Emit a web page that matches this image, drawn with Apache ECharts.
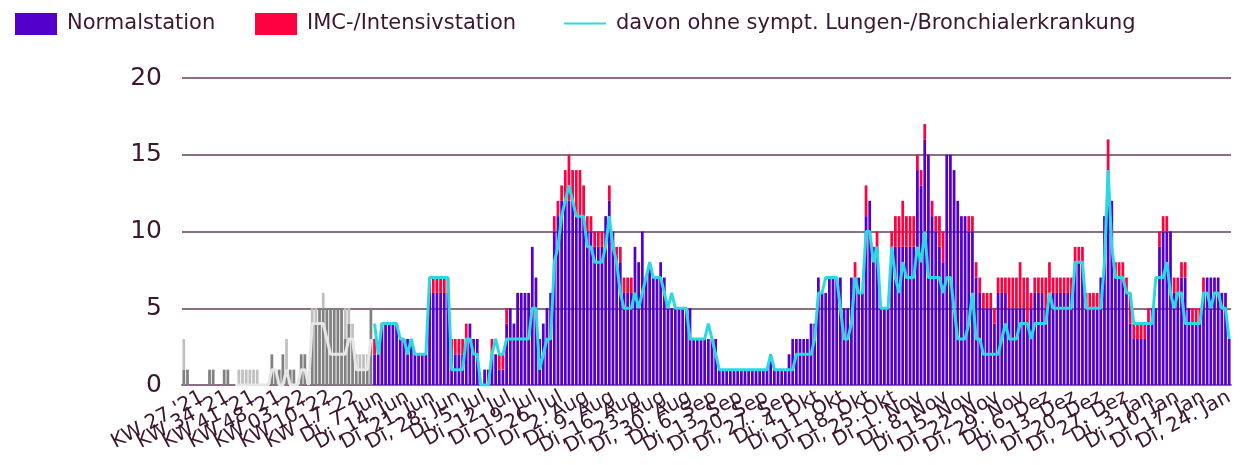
<!DOCTYPE html>
<html lang="de">
<head>
<meta charset="utf-8">
<script src="https://cdn.jsdelivr.net/npm/echarts@6/dist/echarts.min.js"></script>
<style>
  html, body { margin: 0; padding: 0; background: #fff; }
  #chart { width: 1240px; height: 465px; }
</style>
</head>
<body>
<div id="chart"></div>
<script>
// Wochenwerte KW 22 '21 .. KW 21 '22 (grau dargestellt)
var weekNormal = [1,1,0,0,0,0,0,1,1,0, 0,1,1,0,0,0,0,0,0,0, 0,0,0,0,2,1,1,2,1,1,
                  1,0,2,2,0,4,4,5,5,5, 5,5,5,5,3,4,3,1,1,1, 1,5];
var weekImc    = [2,0,0,0,0,0,0,0,0,0, 0,0,0,0,0,1,1,1,1,1, 1,0,0,0,0,0,0,0,2,0,
                  0,0,0,0,0,1,1,0,1,0, 0,0,0,0,2,1,1,1,1,1, 1,0];
var weekOhne   = [null,null,null,null,null,null,null,null,null,null, null,null,null,null,0,0,0,0,0,0,
                  0,0,0,0,1,1,0,0,1,0, 0,0,1,1,0,4,4,4,4,3, 2,2,2,2,2,3,3,1,1,1, 1,3];

// Tageswerte So, 5. Jun 2022 .. Di, 24. Jan 2023
var dayNormal = [2,2,4,4,4,4,4,3,3,3, 3,2,2,2,2,6,6,6,6,6, 6,2,2,2,2,3,4,3,3,0,
                 1,1,2,2,1,1,4,5,4,6, 6,6,6,9,7,3,4,5,6,10, 11,12,12,12,12,11,11,11,10,10,
                 9,9,9,11,12,10,8,8,6,6, 6,9,8,10,7,8,7,7,8,7, 5,5,5,5,5,5,5,3,3,3,
                 3,3,3,3,1,1,1,1,1,1, 1,1,1,1,1,1,1,1,2,1, 1,1,1,2,3,3,3,3,3,4,
                 4,7,6,6,7,7,7,7,5,5, 7,7,7,6,11,12,9,9,5,5, 5,9,9,9,9,9,9,9,14,13,
                 16,15,11,10,9,8,15,15,14,12, 11,11,10,10,7,6,5,5,5,4, 6,6,6,5,5,5,5,5,4,5,
                 6,6,6,5,6,6,6,6,6,6, 6,8,8,8,5,5,5,5,7,11, 14,12,7,7,7,6,4,3,3,3,
                 3,4,5,5,9,10,10,10,6,6, 7,7,5,4,4,4,6,7,7,7, 7,6,6,3];
var dayImc    = [1,0,0,0,0,0,0,0,0,0, 0,0,0,0,0,1,1,1,1,1, 1,1,1,1,1,1,0,0,0,0,
                 0,0,1,0,1,1,1,0,0,0, 0,0,0,0,0,0,0,0,0,1, 1,1,2,3,2,3,3,2,1,1,
                 1,1,1,0,1,0,1,1,1,1, 1,0,0,0,0,0,0,0,0,0, 0,0,0,0,0,0,0,0,0,0,
                 0,0,0,0,0,0,0,0,0,0, 0,0,0,0,0,0,0,0,0,0, 0,0,0,0,0,0,0,0,0,0,
                 0,0,0,0,0,0,0,0,0,0, 0,1,0,0,2,0,0,1,0,0, 0,1,2,2,3,2,2,2,1,1,
                 1,0,1,1,2,2,0,0,0,0, 0,0,1,1,1,1,1,1,1,1, 1,1,1,2,2,2,3,2,3,1,
                 1,1,1,2,2,1,1,1,1,1, 1,1,1,1,1,1,1,1,0,0, 2,0,1,1,1,1,2,1,1,1,
                 1,1,0,0,1,1,1,0,1,1, 1,1,0,1,1,1,1,0,0,0, 0,0,0,0];
var dayOhne   = [4,2,4,4,4,4,4,3,3,2, 3,2,2,2,2,7,7,7,7,7, 7,1,1,1,1,3,3,2,2,0,
                 0,0,2,3,2,2,3,3,3,3, 3,3,3,5,5,1,2,3,3,8, 9,11,12,13,12,11,11,11,9,9,
                 8,8,8,9,11,9,8,6,5,5, 5,6,5,6,7,8,7,7,7,6, 5,6,5,5,5,5,3,3,3,3,
                 3,4,3,2,1,1,1,1,1,1, 1,1,1,1,1,1,1,1,2,1, 1,1,1,1,1,2,2,2,2,2,
                 3,6,6,7,7,7,7,5,3,3, 4,7,6,6,10,10,8,9,5,5, 5,9,7,6,8,7,7,7,9,8,
                 10,7,7,7,7,6,7,7,5,3, 3,3,4,6,3,3,2,2,2,2, 2,3,4,3,3,3,4,4,4,3,
                 4,4,4,4,6,5,5,5,5,5, 5,8,8,8,5,5,5,5,5,8, 14,9,7,7,7,6,6,4,4,4,
                 4,4,4,7,7,7,8,6,5,6, 6,4,4,4,4,4,6,6,5,6, 6,5,5,3];

var yMax = 20, yStep = 5;

// Kategorien: Kalenderwochen, danach Tage
var tage = ['So','Mo','Di','Mi','Do','Fr','Sa'];
var monate = ['Jan','Feb','Mär','Apr','Mai','Jun','Jul','Aug','Sep','Okt','Nov','Dez'];
var categories = [];
for (var k = 0; k < weekNormal.length; k++) {
  var kw = 22 + k, yr = 21;
  if (kw > 52) { kw -= 52; yr = 22; }
  categories.push('KW ' + (kw < 10 ? '0' + kw : kw) + " '" + yr);
}
for (var k = 0; k < dayNormal.length; k++) {
  var dt = new Date(2022, 5, 5 + k);
  categories.push(tage[dt.getDay()] + ', ' + dt.getDate() + '. ' + monate[dt.getMonth()]);
}

function pad(arr, before, after) {
  var out = [];
  for (var i = 0; i < before; i++) out.push(null);
  out = out.concat(arr);
  for (var i = 0; i < after; i++) out.push(null);
  return out;
}
var nW = weekNormal.length, nD = dayNormal.length;

// jede 7. Kategorie beschriften, ab KW 27 '21
function showLabel(index) { return index >= 5 && (index - 5) % 7 === 0; }

var txt = '#3d1630';
var gridCol = '#8c6e87';
var font = 'DejaVu Sans';
var lineName = 'davon ohne sympt. Lungen-/Bronchialerkrankung';

function legendAt(left, item) {
  return {
    left: left, top: 8,
    itemWidth: 42, itemHeight: 22,
    textStyle: { fontSize: 21, color: txt, fontFamily: font, padding: [0, 0, 0, 5] },
    data: [item]
  };
}

var chart = echarts.init(document.getElementById('chart'));
chart.setOption({
  animation: false,
  textStyle: { fontFamily: font },
  legend: [
    legendAt(10, { name: 'Normalstation', icon: 'rect' }),
    legendAt(250, { name: 'IMC-/Intensivstation', icon: 'rect' }),
    legendAt(558, { name: lineName, itemStyle: { opacity: 0 } })
  ],
  grid: { left: 182, right: 9, top: 78, bottom: 80 },
  xAxis: {
    type: 'category',
    data: categories,
    axisLine: { lineStyle: { color: gridCol, width: 2 } },
    axisTick: { interval: showLabel, length: 5, lineStyle: { color: gridCol, width: 2 } },
    axisLabel: {
      interval: 0, rotate: 28, fontSize: 20, color: txt, margin: 11, fontFamily: font,
      formatter: function (value, index) { return showLabel(index) ? value : ''; }
    }
  },
  yAxis: {
    type: 'value', min: 0, max: yMax, interval: yStep,
    axisLine: { show: false },
    axisTick: { show: false },
    axisLabel: { fontSize: 25, color: txt, margin: 20, fontFamily: font },
    splitLine: { lineStyle: { color: gridCol, width: 2 } }
  },
  series: [
    { name: 'Normalstation (KW)', type: 'bar', stack: 'a', barCategoryGap: '25%',
      itemStyle: { color: '#808080' }, data: pad(weekNormal, 0, nD) },
    { name: 'IMC (KW)', type: 'bar', stack: 'a',
      itemStyle: { color: '#c0c0c0' }, data: pad(weekImc, 0, nD) },
    { name: 'Normalstation', type: 'bar', stack: 'a',
      itemStyle: { color: '#5400cc' }, data: pad(dayNormal, nW, 0) },
    { name: 'IMC-/Intensivstation', type: 'bar', stack: 'a',
      itemStyle: { color: '#ff0040' }, data: pad(dayImc, nW, 0) },
    { name: 'ohne (KW)', type: 'line', symbol: 'none', z: 5,
      lineStyle: { color: '#e6e6e6', width: 3 }, itemStyle: { color: '#e6e6e6' },
      data: pad(weekOhne, 0, nD) },
    { name: lineName, type: 'line', symbol: 'none', z: 5,
      lineStyle: { color: '#2ed8e0', width: 3 }, itemStyle: { color: '#2ed8e0' },
      data: pad(dayOhne, nW, 0) }
  ]
});
</script>
</body>
</html>
